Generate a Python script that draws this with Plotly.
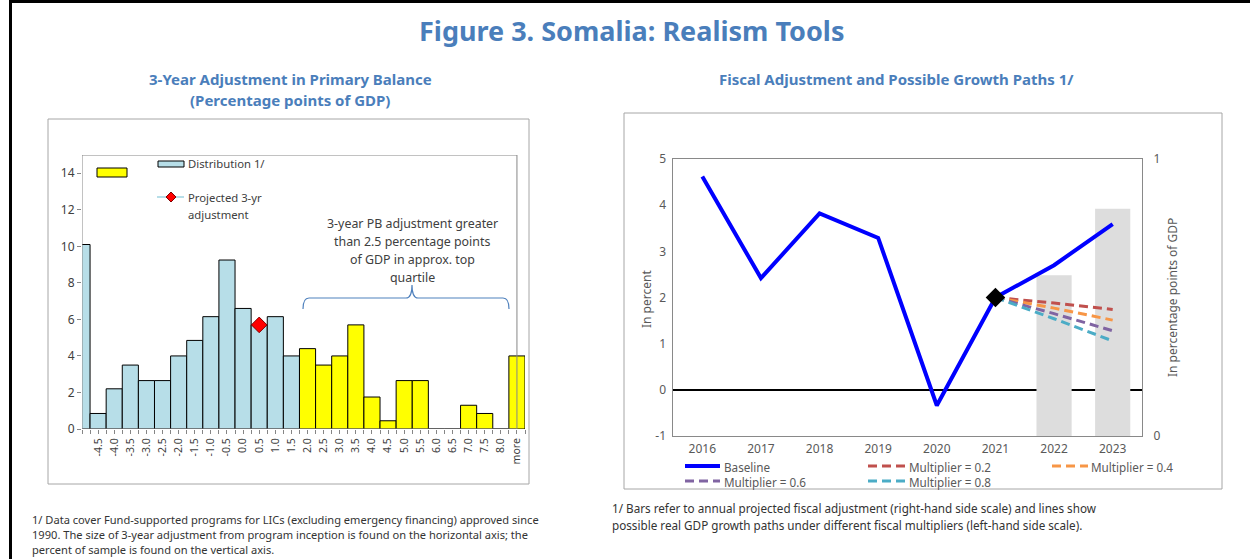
import plotly.graph_objects as go

W, H = 1250, 559


def fx(x):
    return x / W


def fy(y):
    return 1 - y / H


# ---------------- Data ----------------
# Left chart: distribution of 3-year primary balance adjustments
bin_labels = ["", "-4.5", "-4.0", "-3.5", "-3.0", "-2.5", "-2.0", "-1.5", "-1.0", "-0.5",
              "0.0", "0.5", "1.0", "1.5", "2.0", "2.5", "3.0", "3.5", "4.0", "4.5",
              "5.0", "5.5", "6.0", "6.5", "7.0", "7.5", "8.0", "more"]
sample_pct = [10.1, 0.85, 2.2, 3.5, 2.65, 2.65, 4.0, 4.85, 6.15, 9.25,
              6.6, 5.7, 6.15, 4.0, 4.4, 3.5, 4.0, 5.7, 1.75, 0.45,
              2.65, 2.65, 0.0, 0.0, 1.3, 0.85, 0.0, 4.0]
top_quartile_start = "2.0"
projected_bin = "0.5"
projected_value = 5.7
left_ticks = [0, 2, 4, 6, 8, 10, 12, 14]

# Right chart: growth paths and fiscal adjustment
years = ["2016", "2017", "2018", "2019", "2020", "2021", "2022", "2023"]
baseline = [4.62, 2.42, 3.82, 3.29, -0.34, 2.0, 2.70, 3.59]
mult_years = ["2021", "2022", "2023"]
mult_02 = [2.0, 1.88, 1.74]
mult_04 = [2.0, 1.77, 1.51]
mult_06 = [2.0, 1.65, 1.28]
mult_08 = [2.0, 1.54, 1.06]
adj_years = ["2022", "2023"]
fiscal_adj = [0.58, 0.82]
growth_ticks = [-1, 0, 1, 2, 3, 4, 5]
adj_ticks = [0, 1]

FONT = "Noto Sans"
BLUE_BAR = "#B7DEE8"
YELLOW = "#FFFF00"
TITLE_C = "#4A7EBB"
TXT = "#404040"
GRAY_TXT = "#595959"

fig = go.Figure()

# ---------------- Left chart ----------------
idx = list(range(len(bin_labels)))
split = bin_labels.index(top_quartile_start)

fig.add_trace(go.Bar(x=idx[:split], y=sample_pct[:split], width=1,
                     marker=dict(color=BLUE_BAR, line=dict(color="black", width=1)),
                     name="Distribution 1/", showlegend=False, xaxis="x", yaxis="y"))
fig.add_trace(go.Bar(x=idx[split:], y=sample_pct[split:], width=1,
                     marker=dict(color=YELLOW, line=dict(color="black", width=1)),
                     name="", showlegend=False, xaxis="x", yaxis="y"))
fig.add_trace(go.Scatter(x=[bin_labels.index(projected_bin)], y=[projected_value],
                         mode="markers", name="Projected 3-yr adjustment",
                         marker=dict(symbol="diamond", size=12, color="#FF0000",
                                     line=dict(color="#7F0000", width=1)),
                         showlegend=False, xaxis="x", yaxis="y"))

# ---------------- Right chart ----------------
fig.add_trace(go.Bar(x=adj_years, y=fiscal_adj, width=0.6, marker=dict(color="#DDDDDD"),
                     name="Fiscal adjustment", showlegend=False, xaxis="x2", yaxis="y3"))
fig.add_trace(go.Scatter(x=years, y=baseline, mode="lines", name="Baseline",
                         line=dict(color="#0000FF", width=4), showlegend=False,
                         xaxis="x2", yaxis="y4"))
for name, vals, col in [("Multiplier = 0.2", mult_02, "#C0504D"),
                        ("Multiplier = 0.4", mult_04, "#F79646"),
                        ("Multiplier = 0.6", mult_06, "#8064A2"),
                        ("Multiplier = 0.8", mult_08, "#4BACC6")]:
    fig.add_trace(go.Scatter(x=mult_years, y=vals, mode="lines", name=name,
                             line=dict(color=col, width=3, dash="9px,5px"),
                             showlegend=False, xaxis="x2", yaxis="y4"))
fig.add_trace(go.Scatter(x=[years[5]], y=[baseline[5]], mode="markers",
                         marker=dict(symbol="diamond", size=15, color="black"),
                         showlegend=False, xaxis="x2", yaxis="y4"))

# ---------------- Shapes ----------------
shapes = []
# figure frame
shapes.append(dict(type="line", xref="paper", yref="paper", x0=fx(10), x1=fx(1250), y0=fy(1.5), y1=fy(1.5),
                   line=dict(color="black", width=3)))
shapes.append(dict(type="line", xref="paper", yref="paper", x0=fx(10.5), x1=fx(10.5), y0=fy(0), y1=fy(559),
                   line=dict(color="black", width=3)))
# panel boxes
shapes.append(dict(type="rect", xref="paper", yref="paper", x0=fx(48), x1=fx(529), y0=fy(484), y1=fy(119),
                   line=dict(color="#A6A6A6", width=1)))
shapes.append(dict(type="rect", xref="paper", yref="paper", x0=fx(624), x1=fx(1222), y0=fy(489), y1=fy(113),
                   line=dict(color="#A6A6A6", width=1)))
# left plot frame
shapes.append(dict(type="rect", xref="x", yref="y", x0=0, x1=27, y0=0, y1=15,
                   line=dict(color="#868686", width=1), layer="above"))
# left legend swatches
shapes.append(dict(type="rect", xref="paper", yref="paper", x0=fx(97), x1=fx(127), y0=fy(177), y1=fy(168),
                   fillcolor=YELLOW, line=dict(color="black", width=1)))
shapes.append(dict(type="rect", xref="paper", yref="paper", x0=fx(158), x1=fx(184), y0=fy(167), y1=fy(161),
                   fillcolor=BLUE_BAR, line=dict(color="black", width=1)))
shapes.append(dict(type="line", xref="paper", yref="paper", x0=fx(157), x1=fx(184), y0=fy(197), y1=fy(197),
                   line=dict(color=BLUE_BAR, width=2)))
cx, cy, r = 171, 197, 5
shapes.append(dict(type="path", xref="paper", yref="paper",
                   path=f"M {fx(cx)},{fy(cy - r)} L {fx(cx + r)},{fy(cy)} L {fx(cx)},{fy(cy + r)} L {fx(cx - r)},{fy(cy)} Z",
                   fillcolor="#FF0000", line=dict(color="#7F0000", width=1)))


# brace
def P(x, y):
    return f"{fx(x)},{fy(y)}"


brace = (f"M {P(303, 309)} Q {P(303, 298)} {P(309, 298)} L {P(406, 298)} "
         f"Q {P(412, 298)} {P(412, 285)} Q {P(412, 298)} {P(418, 298)} "
         f"L {P(503, 298)} Q {P(509, 298)} {P(509, 309)}")
shapes.append(dict(type="path", xref="paper", yref="paper", path=brace,
                   line=dict(color="#4F81BD", width=1.2)))
# right legend lines
leg = [(685, 720, 466, "#0000FF", "solid", 4),
       (868, 905, 466, "#C0504D", "9px,5px", 3),
       (1052, 1088, 466, "#F79646", "9px,5px", 3),
       (685, 720, 481, "#8064A2", "9px,5px", 3),
       (868, 905, 481, "#4BACC6", "9px,5px", 3)]
for x0, x1, yy, col, dash, w in leg:
    shapes.append(dict(type="line", xref="paper", yref="paper", x0=fx(x0), x1=fx(x1), y0=fy(yy), y1=fy(yy),
                       line=dict(color=col, width=w, dash=dash)))

# ---------------- Annotations ----------------
ann = []


def text(x, y, s, size=11, color=TXT, xanchor="left", bold=False, angle=0, family=FONT):
    ann.append(dict(x=fx(x), y=fy(y), xref="paper", yref="paper", text=f"<b>{s}</b>" if bold else s,
                    showarrow=False, xanchor=xanchor, yanchor="middle", textangle=angle,
                    font=dict(family=family, size=size, color=color)))


text(631, 30, "Figure 3. Somalia: Realism Tools", size=27, color=TITLE_C, xanchor="center", bold=True)
text(290, 79, "3-Year Adjustment in Primary Balance", size=15, color=TITLE_C, xanchor="center", bold=True)
text(290, 100, "(Percentage points of GDP)", size=15, color=TITLE_C, xanchor="center", bold=True)
text(896, 79, "Fiscal Adjustment and Possible Growth Paths 1/", size=15, color=TITLE_C, xanchor="center", bold=True)

text(186, 164, "Distribution 1/", size=11.3)
text(186, 197, "Projected 3-yr", size=11.3)
text(186, 214, "adjustment", size=11.3)

for yy, s in [(223, "3-year PB adjustment greater"), (241, "than 2.5 percentage points"),
              (259, "of GDP in approx. top"), (277, "quartile")]:
    text(412, yy, s, size=12.4, xanchor="center")

for yy, s in [(519, "1/ Data cover Fund-supported programs for LICs (excluding emergency financing) approved since"),
              (534, "1990. The size of 3-year adjustment from program inception is found on the horizontal axis; the"),
              (549, "percent of sample is found on the vertical axis.")]:
    text(30, yy, s, size=11.1, color="#333333")
for yy, s in [(508, "1/ Bars refer to annual projected fiscal adjustment (right-hand side scale) and lines show"),
              (525, "possible real GDP growth paths under different fiscal multipliers (left-hand side scale).")]:
    text(610, yy, s, size=11.7, color="#333333")

text(646, 299, "In percent", size=12, color=GRAY_TXT, xanchor="center", angle=-90)
text(1172, 298, "In percentage points of GDP", size=12, color=GRAY_TXT, xanchor="center", angle=-90)

for x, yy, s in [(722, 467, "Baseline"), (907, 467, "Multiplier = 0.2"), (1089, 467, "Multiplier = 0.4"),
                 (722, 482, "Multiplier = 0.6"), (907, 482, "Multiplier = 0.8")]:
    text(x, yy, s, size=11.7, color=GRAY_TXT)

# ---------------- Layout ----------------
fig.update_layout(
    template="none",
    width=W, height=H, margin=dict(l=0, r=0, t=0, b=0, pad=0, autoexpand=False),
    paper_bgcolor="white", plot_bgcolor="rgba(0,0,0,0)",
    showlegend=False, barmode="overlay",
    font=dict(family=FONT, color=TXT),
    shapes=shapes, annotations=ann,
    xaxis=dict(domain=[fx(82), fx(525)], range=[0, 27.5], anchor="y", automargin=False,
               tickmode="array", tickvals=idx, ticktext=bin_labels, tickangle=-90,
               tickfont=dict(size=10.5, color=TXT), ticks="outside", ticklen=4, tickcolor="#868686",
               minor=dict(tickmode="linear", tick0=0.5, dtick=1, ticks="outside", ticklen=4,
                          tickcolor="#868686", showgrid=False),
               showgrid=False, zeroline=False, showline=False),
    yaxis=dict(domain=[fy(429), fy(155)], range=[0, 15], anchor="x", automargin=False,
               tickmode="array", tickvals=left_ticks, ticktext=[str(v) for v in left_ticks],
               tickfont=dict(size=12, color=TXT), ticks="outside", ticklen=4, tickcolor="#868686",
               showgrid=False, zeroline=False, showline=False),
    xaxis2=dict(domain=[fx(673), fx(1142)], anchor="y3", type="category", automargin=False,
                categoryorder="array", categoryarray=years, range=[-0.5, 7.5],
                tickfont=dict(size=12, color=GRAY_TXT), ticks="", ticklabelstandoff=2,
                showline=True, mirror=True, linecolor="#898989", linewidth=1,
                showgrid=False, zeroline=False),
    yaxis3=dict(domain=[fy(436), fy(159)], anchor="x2", side="right", range=[0, 1], automargin=False,
                tickmode="array", tickvals=adj_ticks, ticktext=[str(v) for v in adj_ticks],
                tickfont=dict(size=12, color=GRAY_TXT), ticks="", ticklabelstandoff=8,
                showline=True, mirror=True, linecolor="#898989", linewidth=1,
                showgrid=False, zeroline=False),
    yaxis4=dict(overlaying="y3", anchor="x2", side="left", range=[-1, 5], automargin=False,
                tickmode="array", tickvals=growth_ticks, ticktext=[str(v) for v in growth_ticks],
                tickfont=dict(size=12, color=GRAY_TXT), ticks="", ticklabelstandoff=6,
                showgrid=False, zeroline=True, zerolinecolor="black", zerolinewidth=1.5,
                showline=False),
)

fig.write_html("out.html", config={"displayModeBar": False},
               post_script="document.body.style.margin='0px';document.body.style.overflow='hidden';")
